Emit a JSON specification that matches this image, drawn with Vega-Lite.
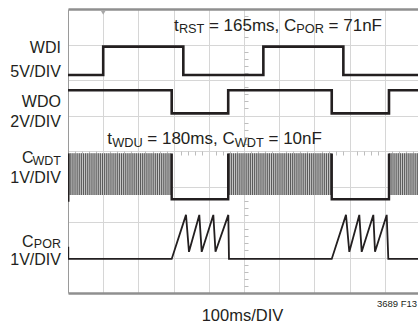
{
"$schema": "https://vega.github.io/schema/vega-lite/v6.json",
"width": 350, "height": 284,
"autosize": {"type": "none"},
"padding": {"left": 68, "top": 9, "right": 0, "bottom": 31},
"background": "white",
"config": {"view": {"stroke": null}},
"resolve": {"axis": {"x": "independent", "y": "independent"}},
"datasets": {
"sig": [
{"s":"WDI","t":0,"v":6.14},{"s":"WDI","t":100,"v":6.14},{"s":"WDI","t":100,"v":6.94},{"s":"WDI","t":327.5,"v":6.94},{"s":"WDI","t":327.5,"v":6.14},{"s":"WDI","t":554.8,"v":6.14},{"s":"WDI","t":554.8,"v":6.94},{"s":"WDI","t":782,"v":6.94},{"s":"WDI","t":782,"v":6.14},{"s":"WDI","t":994,"v":6.14},
{"s":"WDO","t":0,"v":5.71},{"s":"WDO","t":294.5,"v":5.71},{"s":"WDO","t":294.5,"v":5.06},{"s":"WDO","t":455,"v":5.06},{"s":"WDO","t":455,"v":5.71},{"s":"WDO","t":749,"v":5.71},{"s":"WDO","t":749,"v":5.06},{"s":"WDO","t":911.6,"v":5.06},{"s":"WDO","t":911.6,"v":5.71},{"s":"WDO","t":994,"v":5.71},
{"s":"CWDT0","t":0.8,"v":3.93},{"s":"CWDT0","t":0.8,"v":2.57},
{"s":"CWDT1","t":294.5,"v":3.93},{"s":"CWDT1","t":294.5,"v":2.64},{"s":"CWDT1","t":455,"v":2.64},{"s":"CWDT1","t":455,"v":3.93},
{"s":"CWDT2","t":749,"v":3.93},{"s":"CWDT2","t":749,"v":2.64},{"s":"CWDT2","t":911.6,"v":2.64},{"s":"CWDT2","t":911.6,"v":3.93},
{"s":"CPOR","t":0.8,"v":1.3},{"s":"CPOR","t":0.8,"v":0.96},{"s":"CPOR","t":294.5,"v":0.96},{"s":"CPOR","t":335.1,"v":2.2},{"s":"CPOR","t":343.6,"v":1.16},{"s":"CPOR","t":372.9,"v":2.2},{"s":"CPOR","t":379.7,"v":1.16},{"s":"CPOR","t":412.7,"v":2.2},{"s":"CPOR","t":418.9,"v":1.16},{"s":"CPOR","t":455.3,"v":2.2},{"s":"CPOR","t":457.2,"v":0.96},{"s":"CPOR","t":749,"v":0.96},{"s":"CPOR","t":789.5,"v":2.2},{"s":"CPOR","t":798.9,"v":1.16},{"s":"CPOR","t":827.3,"v":2.2},{"s":"CPOR","t":834.1,"v":1.16},{"s":"CPOR","t":867.1,"v":2.2},{"s":"CPOR","t":871.9,"v":1.16},{"s":"CPOR","t":905.1,"v":2.2},{"s":"CPOR","t":909.7,"v":0.96},{"s":"CPOR","t":994,"v":0.96}
],
"stripes": [
{"t":2},{"t":8},{"t":14},{"t":20},{"t":26},{"t":32},{"t":38},{"t":44},{"t":50},{"t":56},{"t":62},{"t":68},{"t":74},{"t":80},{"t":86},{"t":92},{"t":98},{"t":104},{"t":110},{"t":116},{"t":122},{"t":128},{"t":134},{"t":140},{"t":146},{"t":152},{"t":158},{"t":164},{"t":170},{"t":176},{"t":182},{"t":188},{"t":194},{"t":200},{"t":206},{"t":212},{"t":218},{"t":224},{"t":230},{"t":236},{"t":242},{"t":248},{"t":254},{"t":260},{"t":266},{"t":272},{"t":278},{"t":284},{"t":290},
{"t":458},{"t":464},{"t":470},{"t":476},{"t":482},{"t":488},{"t":494},{"t":500},{"t":506},{"t":512},{"t":518},{"t":524},{"t":530},{"t":536},{"t":542},{"t":548},{"t":554},{"t":560},{"t":566},{"t":572},{"t":578},{"t":584},{"t":590},{"t":596},{"t":602},{"t":608},{"t":614},{"t":620},{"t":626},{"t":632},{"t":638},{"t":644},{"t":650},{"t":656},{"t":662},{"t":668},{"t":674},{"t":680},{"t":686},{"t":692},{"t":698},{"t":704},{"t":710},{"t":716},{"t":722},{"t":728},{"t":734},{"t":740},{"t":746},
{"t":914},{"t":920},{"t":926},{"t":932},{"t":938},{"t":944},{"t":950},{"t":956},{"t":962},{"t":968},{"t":974},{"t":980},{"t":986},{"t":992}
],
"bands": [{"a":0,"b":294.5},{"a":455,"b":749},{"a":911.6,"b":994}]
},
"layer": [
{"data":{"name":"bands"},"mark":{"type":"rect","fill":"#c9c9c9","clip":true},
 "encoding":{
  "x":{"field":"a","type":"quantitative","scale":{"domain":[0,994],"nice":false,"zero":false},
   "axis":{"orient":"bottom","values":[100,200,300,400,500,600,700,800,900],"grid":true,"gridColor":"#d6d6d6","gridWidth":1,"ticks":false,"labels":false,"domain":true,"domainColor":"#8f8f8f","domainWidth":2.5,"title":null}},
  "x2":{"field":"b"},
  "y":{"datum":2.76,"type":"quantitative","scale":{"domain":[0,8],"nice":false,"zero":false},
   "axis":{"orient":"left","values":[1,2,3,4,5,6,7],"grid":true,"gridColor":"#d6d6d6","gridWidth":1,"ticks":false,"labels":false,"domain":true,"domainColor":"#9a9a9a","domainWidth":1,"title":null}},
  "y2":{"datum":3.935}}},
{"data":{"name":"stripes"},"mark":{"type":"rule","stroke":"#5a5a5a","strokeWidth":1.1,"clip":true},
 "encoding":{
  "x":{"field":"t","type":"quantitative","scale":{"domain":[0,994],"nice":false,"zero":false},
   "axis":{"orient":"top","grid":false,"ticks":false,"labels":false,"domain":true,"domainColor":"#8f8f8f","domainWidth":2.5,"title":null}},
  "y":{"datum":2.76,"type":"quantitative","scale":{"domain":[0,8],"nice":false,"zero":false},"axis":null},
  "y2":{"datum":3.935}}},
{"data":{"name":"sig"},"transform":[{"filter":"datum.s==='WDI'"}],"mark":{"type":"line","stroke":"#231f20","strokeWidth":2.6,"clip":true},
 "encoding":{
  "x":{"field":"t","type":"quantitative","scale":{"domain":[0,994],"nice":false,"zero":false},
   "axis":{"orient":"bottom","offset":-142,"values":[20,40,60,80,120,140,160,180,220,240,260,280,320,340,360,380,420,440,460,480,520,540,560,580,620,640,660,680,720,740,760,780,820,840,860,880,920,940,960,980],"grid":false,"ticks":true,"tickSize":4,"tickColor":"#bdbdbd","tickWidth":1,"labels":false,"domain":false,"title":null}},
  "y":{"field":"v","type":"quantitative","scale":{"domain":[0,8],"nice":false,"zero":false},"axis":null},
  "order":{"value":null}}},
{"data":{"name":"sig"},"transform":[{"filter":"datum.s==='WDO'"}],"mark":{"type":"line","stroke":"#231f20","strokeWidth":2.6,"clip":true},
 "encoding":{
  "x":{"field":"t","type":"quantitative","scale":{"domain":[0,994],"nice":false,"zero":false},"axis":null},
  "y":{"field":"v","type":"quantitative","scale":{"domain":[0,8],"nice":false,"zero":false},
   "axis":{"orient":"right","offset":-174,"values":[0.2,0.4,0.6,0.8,1.2,1.4,1.6,1.8,2.2,2.4,2.6,2.8,3.2,3.4,3.6,3.8,4.2,4.4,4.6,4.8,5.2,5.4,5.6,5.8,6.2,6.4,6.6,6.8,7.2,7.4,7.6,7.8],"grid":false,"ticks":true,"tickSize":4,"tickColor":"#bdbdbd","tickWidth":1,"labels":false,"domain":false,"title":null}},
  "order":{"value":null}}},
{"data":{"name":"sig"},"transform":[{"filter":"indexof(datum.s,'CWDT')===0"}],"mark":{"type":"line","stroke":"#231f20","strokeWidth":2.4,"clip":true},
 "encoding":{
  "x":{"field":"t","type":"quantitative","scale":{"domain":[0,994],"nice":false,"zero":false},"axis":null},
  "y":{"field":"v","type":"quantitative","scale":{"domain":[0,8],"nice":false,"zero":false},"axis":null},
  "detail":{"field":"s"},
  "order":{"value":null}}},
{"data":{"name":"sig"},"transform":[{"filter":"datum.s==='CPOR'"}],"mark":{"type":"line","stroke":"#231f20","strokeWidth":1.8,"clip":true},
 "encoding":{
  "x":{"field":"t","type":"quantitative","scale":{"domain":[0,994],"nice":false,"zero":false},"axis":null},
  "y":{"field":"v","type":"quantitative","scale":{"domain":[0,8],"nice":false,"zero":false},"axis":null},
  "order":{"value":null}}},
{"data":{"values":[{}]},"mark":{"type":"point","shape":"triangle-down","filled":true,"fill":"#a8a8a8","size":28,"opacity":1},
 "encoding":{"x":{"datum":100,"type":"quantitative","scale":{"domain":[0,994],"nice":false,"zero":false},"axis":null},"y":{"datum":7.9,"type":"quantitative","scale":{"domain":[0,8],"nice":false,"zero":false},"axis":null}}},
{"data":{"values":[{"k":"WDI","x":-20,"y":6.752},{"k":"5V/DIV","x":-20,"y":6.093},{"k":"WDO","x":-20,"y":5.248},{"k":"2V/DIV","x":-20,"y":4.685},{"k":"1V/DIV","x":-20,"y":3.107},{"k":"1V/DIV","x":-20,"y":0.775}]},
 "mark":{"type":"text","align":"right","baseline":"alphabetic","font":"Liberation Sans","fontSize":16,"fill":"#231f20"},
 "encoding":{"x":{"field":"x","type":"quantitative","scale":{"domain":[0,994],"nice":false,"zero":false},"axis":null},"y":{"field":"y","type":"quantitative","scale":{"domain":[0,8],"nice":false,"zero":false},"axis":null},"text":{"field":"k"}}},
{"data":{"values":[{"k":"C","x":-98,"y":3.654},{"k":"C","x":-98,"y":1.304}]},
 "mark":{"type":"text","align":"right","baseline":"alphabetic","font":"Liberation Sans","fontSize":16,"fill":"#231f20"},
 "encoding":{"x":{"field":"x","type":"quantitative","scale":{"domain":[0,994],"nice":false,"zero":false},"axis":null},"y":{"field":"y","type":"quantitative","scale":{"domain":[0,8],"nice":false,"zero":false},"axis":null},"text":{"field":"k"}}},
{"data":{"values":[{"k":"WDT","x":-20,"y":3.592},{"k":"POR","x":-20,"y":1.254}]},
 "mark":{"type":"text","align":"right","baseline":"alphabetic","font":"Liberation Sans","fontSize":12.5,"fill":"#231f20"},
 "encoding":{"x":{"field":"x","type":"quantitative","scale":{"domain":[0,994],"nice":false,"zero":false},"axis":null},"y":{"field":"y","type":"quantitative","scale":{"domain":[0,8],"nice":false,"zero":false},"axis":null},"text":{"field":"k"}}},
{"data":{"values":[{"k":"t","x":301,"y":7.389},{"k":"= 165ms,","x":400.2,"y":7.389},{"k":"C","x":613.4,"y":7.389},{"k":"= 71nF","x":740.1,"y":7.389},{"k":"t","x":111.6,"y":4.189},{"k":"= 180ms,","x":225.2,"y":4.189},{"k":"C","x":438.5,"y":4.189},{"k":"= 10nF","x":569.4,"y":4.189}]},
 "mark":{"type":"text","align":"left","baseline":"alphabetic","font":"Liberation Sans","fontSize":17,"fill":"#231f20"},
 "encoding":{"x":{"field":"x","type":"quantitative","scale":{"domain":[0,994],"nice":false,"zero":false},"axis":null},"y":{"field":"y","type":"quantitative","scale":{"domain":[0,8],"nice":false,"zero":false},"axis":null},"text":{"field":"k"}}},
{"data":{"values":[{"k":"RST","x":314.9,"y":7.315},{"k":"POR","x":648.4,"y":7.315},{"k":"WDU","x":125.5,"y":4.121},{"k":"WDT","x":473.3,"y":4.121}]},
 "mark":{"type":"text","align":"left","baseline":"alphabetic","font":"Liberation Sans","fontSize":12.75,"fill":"#231f20"},
 "encoding":{"x":{"field":"x","type":"quantitative","scale":{"domain":[0,994],"nice":false,"zero":false},"axis":null},"y":{"field":"y","type":"quantitative","scale":{"domain":[0,8],"nice":false,"zero":false},"axis":null},"text":{"field":"k"}}},
{"data":{"values":[{"k":"100ms/DIV","x":495.6,"y":-0.789}]},
 "mark":{"type":"text","align":"center","baseline":"alphabetic","font":"Liberation Sans","fontSize":16.5,"fill":"#231f20"},
 "encoding":{"x":{"field":"x","type":"quantitative","scale":{"domain":[0,994],"nice":false,"zero":false},"axis":null},"y":{"field":"y","type":"quantitative","scale":{"domain":[0,8],"nice":false,"zero":false},"axis":null},"text":{"field":"k"}}},
{"data":{"values":[{"k":"3689 F13","x":877.6,"y":-0.386}]},
 "mark":{"type":"text","align":"left","baseline":"alphabetic","font":"Liberation Sans","fontSize":9.5,"fill":"#231f20"},
 "encoding":{"x":{"field":"x","type":"quantitative","scale":{"domain":[0,994],"nice":false,"zero":false},"axis":null},"y":{"field":"y","type":"quantitative","scale":{"domain":[0,8],"nice":false,"zero":false},"axis":null},"text":{"field":"k"}}}
]
}
